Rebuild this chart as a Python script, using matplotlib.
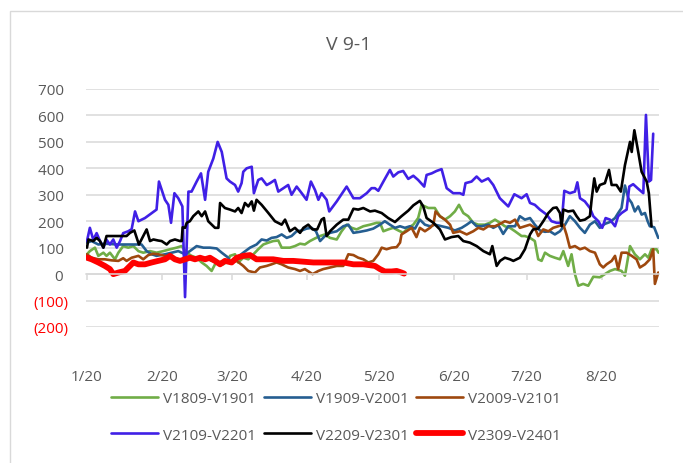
import matplotlib
matplotlib.use("Agg")
from matplotlib import pyplot as plt
from matplotlib.patches import Rectangle

# x values are days counted from 1 Jan, y values are the spread
green_days = [0, 1.2, 3.3, 4.7, 6.8, 8.1, 9.5, 11.6, 13.0, 15.0, 17.1, 19.2, 21.3, 23.3, 26.1, 28.8,
              31.6, 34.4, 37.1, 39.2, 41.3, 43.3, 45.4, 47.5, 49.5, 51.6, 53.0, 54.4, 56.4, 58.5,
              59.2, 61.3, 62.6, 64.7, 66.8, 68.9, 70.9, 73.0, 75.1, 77.1, 79.2, 80.6, 82.0, 84.0,
              86.1, 88.2, 90.2, 92.3, 94.4, 96.5, 98.5, 100.6, 103.4, 105.4, 107.5, 109.6, 111.6,
              114.4, 117.2, 119.9, 121.3, 122.7, 124.7, 126.8, 128.9, 130.9, 133.0, 135.1, 137.1,
              138.5, 141.3, 144.0, 146.1, 148.2, 150.3, 152.3, 154.0, 155.8, 157.8, 159.9, 162.0,
              164.7, 166.8, 168.9, 171.0, 173.0, 175.1, 177.2, 179.9, 181.3, 183.4, 185.4, 186.8,
              188.2, 189.6, 191.6, 193.7, 195.8, 197.2, 199.2, 200.6, 202.0, 203.4, 205.4, 207.5,
              209.6, 212.3, 214.4, 216.5, 218.6, 221.3, 222.7, 224.8, 226.8, 228.9, 231.0, 232.4,
              233.7, 235.8, 236.6]
green_vals = [75, 87, 100, 69, 81, 69, 81, 56, 81, 106, 100, 106, 87, 81, 87, 81,
              87, 94, 100, 106, 81, 69, 62, 44, 31, 12, 37, 44, 37, 50,
              69, 75, 44, 62, 56, 75, 94, 112, 119, 125, 127, 100, 100, 100,
              106, 115, 112, 125, 135, 144, 150, 137, 131, 162, 187, 175, 169,
              181, 187, 194, 194, 162, 169, 175, 165, 156, 175, 187, 212,
              262, 250, 250, 219, 206, 219, 237, 262, 231, 219, 194, 187,
              187, 194, 206, 194, 181, 175, 162, 144, 144, 137, 125, 56,
              50, 81, 69, 62, 56, 87, 31, 75, 0, -44, -37, -44,
              -10, -12, 0, 12, 19, 12, -6, 106, 75, 56, 75, 62,
              94, 94, 81]

dblue_days = [0, 1.9, 4.7, 7.4, 13.0, 18.5, 22.6, 24.7, 26.8, 28.8, 32.3, 35.1, 37.8, 40.6, 42.6,
              45.4, 48.2, 50.9, 53.7, 55.8, 58.5, 59.2, 62.0, 64.7, 67.5, 70.2, 72.3, 74.4, 76.4,
              78.5, 80.6, 82.7, 84.7, 86.8, 88.9, 90.9, 93.0, 94.8, 96.5, 98.5, 100.6, 103.4,
              106.1, 108.2, 110.3, 113.0, 115.8, 118.5, 121.3, 123.3, 125.4, 127.5, 129.6, 131.6,
              133.7, 135.8, 137.8, 139.9, 142.0, 144.0, 146.8, 149.6, 152.3, 155.1, 157.2, 159.2,
              161.3, 163.4, 166.1, 168.2, 170.3, 172.3, 174.4, 177.2, 179.2, 181.3, 183.4, 185.4,
              187.5, 189.6, 191.6, 193.7, 195.8, 197.9, 199.9, 202.0, 204.1, 206.1, 208.2, 210.3,
              212.3, 214.4, 216.5, 218.6, 219.9, 221.3, 222.7, 224.1, 225.5, 226.8, 228.2, 229.6,
              231.0, 232.1, 233.0, 234.8, 236.5]
dblue_vals = [119, 125, 112, 115, 112, 112, 112, 87, 75, 69, 75, 81, 87, 75, 87,
              106, 100, 100, 97, 81, 62, 44, 62, 81, 100, 112, 131, 127, 137,
              140, 150, 137, 144, 162, 165, 172, 175, 162, 125, 144, 156, 162,
              181, 187, 156, 160, 165, 172, 187, 200, 187, 175, 181, 175,
              181, 172, 206, 187, 181, 187, 181, 175, 165, 175, 187, 200,
              181, 181, 187, 175, 185, 152, 181, 181, 219, 206, 212, 187,
              165, 160, 162, 150, 162, 187, 219, 200, 175, 156, 187, 200,
              175, 190, 197, 212, 231, 250, 335, 287, 269, 237, 256, 225,
              231, 200, 181, 177, 137]

brown_days = [0, 1.9, 4.7, 7.4, 10.2, 13.0, 15.0, 16.4, 18.5, 21.3, 23.3, 25.4, 27.5, 29.5, 32.3,
              34.4, 37.8, 40.6, 43.3, 46.1, 48.9, 51.6, 54.4, 57.1, 59.9, 62.0, 64.7, 66.8, 69.5,
              71.6, 74.4, 76.4, 78.5, 80.6, 83.3, 86.1, 88.2, 90.2, 93.4, 95.8, 97.8, 100.6,
              103.4, 106.1, 108.2, 110.3, 112.3, 114.4, 116.5, 118.5, 120.6, 122.0, 124.0, 126.1,
              128.2, 129.6, 130.2, 132.3, 134.4, 136.4, 137.8, 139.9, 142.0, 143.4, 144.3, 146.1,
              148.2, 150.3, 151.6, 154.4, 157.2, 159.9, 162.0, 164.1, 166.1, 168.9, 171.0, 173.0,
              175.1, 177.2, 179.2, 181.3, 183.4, 185.4, 186.8, 188.9, 191.0, 193.0, 195.1, 197.2,
              198.5, 199.9, 202.0, 204.1, 206.1, 208.2, 210.3, 212.3, 213.7, 215.1, 217.2, 218.6,
              219.9, 221.3, 223.4, 225.5, 227.5, 228.9, 231.0, 233.0, 234.4, 235.1, 236.5]
brown_vals = [75, 62, 56, 56, 52, 50, 60, 50, 62, 69, 56, 72, 77, 75, 69,
              62, 56, 56, 62, 56, 62, 50, 44, 50, 44, 50, 31, 12, 6,
              25, 31, 37, 44, 37, 25, 19, 12, 19, 0, 12, 19, 25,
              31, 31, 75, 72, 62, 56, 44, 50, 75, 100, 94, 100,
              102, 119, 150, 162, 175, 140, 175, 162, 175, 187, 237, 219,
              206, 187, 156, 162, 150, 162, 175, 169, 181, 181, 190, 200,
              194, 206, 175, 181, 187, 175, 144, 169, 162, 175, 181, 187,
              150, 100, 106, 94, 100, 87, 81, 37, 25, 37, 50, 69,
              19, 81, 81, 69, 56, 25, 37, 56, 94, -37, 6]

vblue_days = [0, 1.2, 2.6, 4.0, 5.4, 6.8, 8.1, 9.5, 10.9, 12.3, 13.7, 15.0, 17.1, 18.5, 19.9, 21.3,
              24.0, 28.8, 29.8, 32.3, 33.7, 34.8, 36.2, 37.8, 39.5, 40.6, 42.0, 43.3, 45.4, 47.2,
              48.9, 50.2, 52.3, 54.1, 55.8, 57.8, 59.2, 61.3, 62.6, 64.0, 64.7, 66.1, 68.2, 69.1,
              70.9, 72.3, 74.4, 75.8, 77.8, 79.2, 81.3, 83.3, 84.7, 86.8, 88.9, 90.9, 92.7, 94.4,
              95.8, 97.1, 99.2, 100.3, 103.4, 107.5, 110.3, 113.0, 115.8, 117.8, 119.2, 120.6,
              122.7, 125.4, 126.8, 128.9, 130.9, 133.0, 135.1, 137.1, 139.6, 140.6, 142.7, 144.7,
              146.8, 148.9, 151.6, 154.4, 155.8, 156.7, 159.2, 161.3, 163.4, 166.1, 168.2, 170.9,
              174.4, 176.9, 179.9, 182.0, 183.4, 185.4, 187.5, 190.3, 192.3, 194.4, 196.5, 197.6,
              199.9, 202.0, 203.0, 204.1, 206.1, 208.2, 209.6, 211.7, 213.3, 214.7, 216.5, 218.6,
              219.9, 221.3, 223.4, 224.5, 226.1, 227.9, 230.3, 231.4, 232.6, 233.5, 234.4]
vblue_vals = [125, 175, 130, 155, 125, 100, 130, 112, 131, 100, 125, 155, 162, 170, 237, 200,
              212, 244, 350, 281, 262, 194, 306, 287, 256, -87, 312, 312, 350, 381,
              281, 387, 437, 500, 462, 362, 350, 337, 312, 344, 387, 400, 406, 306,
              356, 362, 337, 344, 356, 312, 325, 337, 300, 331, 306, 281, 350, 318,
              281, 306, 281, 237, 275, 331, 287, 287, 306, 325, 325, 315,
              350, 394, 369, 385, 390, 360, 372, 356, 331, 375, 381, 390,
              397, 325, 306, 306, 300, 344, 350, 369, 350, 362, 337, 287,
              256, 302, 287, 302, 269, 262, 244, 225, 200, 194, 194, 315,
              306, 312, 347, 287, 275, 250, 219, 200, 175, 212, 206, 181,
              219, 231, 244, 331, 340, 325, 306, 602, 350, 356, 531]

black_days = [0, 0.6, 2.6, 4.0, 5.4, 6.8, 8.1, 10.2, 13.0, 16.4, 17.8, 19.6, 21.5, 22.9, 24.7, 26.1,
              27.5, 29.5, 30.9, 33.0, 34.4, 36.4, 38.5, 39.2, 39.6, 40.6, 41.3, 42.6, 44.0, 46.1,
              47.5, 48.9, 50.2, 53.0, 54.4, 55.1, 57.1, 59.2, 61.3, 62.6, 64.0, 65.4, 66.8, 68.2,
              69.1, 70.2, 72.3, 75.1, 77.8, 80.6, 82.0, 84.0, 86.1, 88.2, 89.6, 91.6, 93.4, 95.3,
              97.1, 98.1, 99.2, 100.6, 103.4, 106.1, 108.2, 110.3, 112.3, 114.4, 117.2, 119.2,
              122.0, 124.7, 127.5, 130.2, 133.0, 135.1, 137.8, 139.2, 140.6, 143.4, 146.1, 148.2,
              150.9, 153.7, 155.8, 158.5, 161.3, 164.1, 166.8, 167.8, 169.6, 171.0, 173.0, 175.1,
              176.5, 179.2, 181.3, 183.4, 184.7, 186.8, 188.9, 191.0, 193.0, 194.4, 195.8, 196.5,
              197.2, 199.2, 201.3, 202.7, 204.1, 206.1, 208.2, 208.9, 210.0, 211.0, 212.3, 214.4,
              216.1, 217.2, 219.2, 221.0, 222.7, 224.8, 225.5, 226.6, 228.2, 229.6, 231.7, 232.6,
              233.7]
black_vals = [100, 131, 125, 137, 125, 100, 144, 144, 144, 144, 156, 165, 112, 137, 169, 125,
              131, 127, 125, 112, 125, 131, 125, 125, 177, 175, 194, 200, 219, 237,
              219, 237, 200, 175, 175, 269, 250, 244, 237, 250, 231, 269, 256, 275,
              240, 281, 262, 231, 200, 187, 206, 162, 175, 156, 175, 187, 169, 169,
              206, 212, 144, 162, 187, 206, 206, 247, 244, 250, 237, 240,
              231, 212, 197, 219, 240, 260, 277, 256, 212, 194, 169, 131,
              140, 144, 125, 119, 106, 87, 75, 106, 31, 50, 62, 56,
              50, 62, 94, 150, 169, 172, 200, 231, 250, 252, 231, 181,
              244, 237, 240, 219, 202, 206, 219, 281, 362, 312, 337, 344,
              394, 337, 337, 312, 412, 500, 462, 544, 462, 387, 350, 306,
              181]

red_days = [0, 1.9, 4.7, 7.4, 9.5, 10.9, 13.0, 15.7, 17.8, 19.2, 21.3, 24.0, 26.8, 29.5, 32.3,
            34.4, 36.4, 38.5, 40.6, 42.6, 44.7, 46.8, 48.9, 50.9, 53.0, 55.1, 57.1, 59.9, 62.0,
            64.7, 67.5, 70.2, 73.0, 77.1, 81.3, 85.4, 89.6, 93.7, 97.8, 102.0, 106.1, 110.3,
            114.4, 119.2, 121.3, 123.3, 126.1, 128.2, 130.2, 131.3]
red_vals = [62, 56, 44, 31, 19, 0, 6, 12, 31, 44, 37, 37, 44, 50, 56,
            69, 56, 50, 56, 62, 56, 62, 56, 62, 50, 37, 50, 44, 62,
            69, 72, 56, 56, 56, 50, 50, 47, 44, 44, 44, 44, 37,
            37, 31, 19, 10, 10, 12, 6, 2]

series_names = ['V1809-V1901', 'V1909-V2001', 'V2009-V2101',
                'V2109-V2201', 'V2209-V2301', 'V2309-V2401']
month_days = [0, 31, 60, 91, 121, 152, 182, 213]
month_labels = ['1/20', '2/20', '3/20', '4/20', '5/20', '6/20', '7/20', '8/20']
y_ticks = [-200, -100, 0, 100, 200, 300, 400, 500, 600, 700]
y_labels = ['(200)', '(100)', '0', '100', '200', '300', '400', '500', '600', '700']

plt.rcParams['font.family'] = ['Open Sans', 'DejaVu Sans']
grey = '#595959'

fig = plt.figure(figsize=(6.83, 4.64), dpi=100)
ax = fig.add_axes([86 / 683, 1 - 328 / 464, (659 - 86) / 683, (328 - 90) / 464])

# thin chart-area border, only its left and top edges are inside the picture
fig.patches.append(Rectangle((10 / 683, -0.1), 1.2, 1.1 - 12 / 464, transform=fig.transFigure,
                             fill=False, edgecolor='#D9D9D9', lw=1.0))

data = [(green_days, green_vals, '#70AD47', 1.9),
        (dblue_days, dblue_vals, '#255E91', 1.9),
        (brown_days, brown_vals, '#9E480E', 1.9),
        (vblue_days, vblue_vals, '#4020E6', 1.9),
        (black_days, black_vals, '#000000', 1.9),
        (red_days, red_vals, '#FF0000', 4.2)]
lines = []
for (d, v, c, lw), name in zip(data, series_names):
    ln, = ax.plot(d, v, color=c, lw=lw, label=name, solid_joinstyle='round',
                  solid_capstyle='round')
    lines.append(ln)

ax.set_xlim(-0.4, 236.8)
ax.set_ylim(-200, 700)
ax.set_yticks(y_ticks)
ax.set_yticklabels([l if l.startswith('(') else l + ' ' for l in y_labels])
for lab, val in zip(ax.get_yticklabels(), y_ticks):
    lab.set_color('#FF0000' if val < 0 else grey)
ax.tick_params(axis='y', length=0, pad=13, labelsize=11)
ax.grid(axis='y', color='#D9D9D9', lw=1.1)
ax.set_axisbelow(True)

# category axis sits on the zero line, labels stay at the bottom
ax.spines['bottom'].set_position(('data', 0))
ax.spines['bottom'].set_color('#D9D9D9')
ax.spines['bottom'].set_linewidth(1.1)
for s in ['top', 'right', 'left']:
    ax.spines[s].set_visible(False)
ax.set_xticks(month_days)
ax.set_xticklabels(month_labels)
ax.tick_params(axis='x', direction='out', length=4, width=1.1, color='#D9D9D9',
               pad=64, labelsize=11, labelcolor=grey)

fig.text(0.51, 1 - 45 / 464, 'V 9-1', ha='center', va='center', fontsize=14, color=grey)

# legend filled row by row
order = [0, 3, 1, 4, 2, 5]
leg = fig.legend([lines[i] for i in order], [series_names[i] for i in order],
                 loc='center', bbox_to_anchor=(336 / 683, 1 - 418 / 464), ncol=3,
                 frameon=False, fontsize=11, handlelength=3.1, handletextpad=0.3,
                 columnspacing=0.5, labelspacing=1.4)
for t in leg.get_texts():
    t.set_color(grey)

fig.savefig('out.png', dpi=100)
